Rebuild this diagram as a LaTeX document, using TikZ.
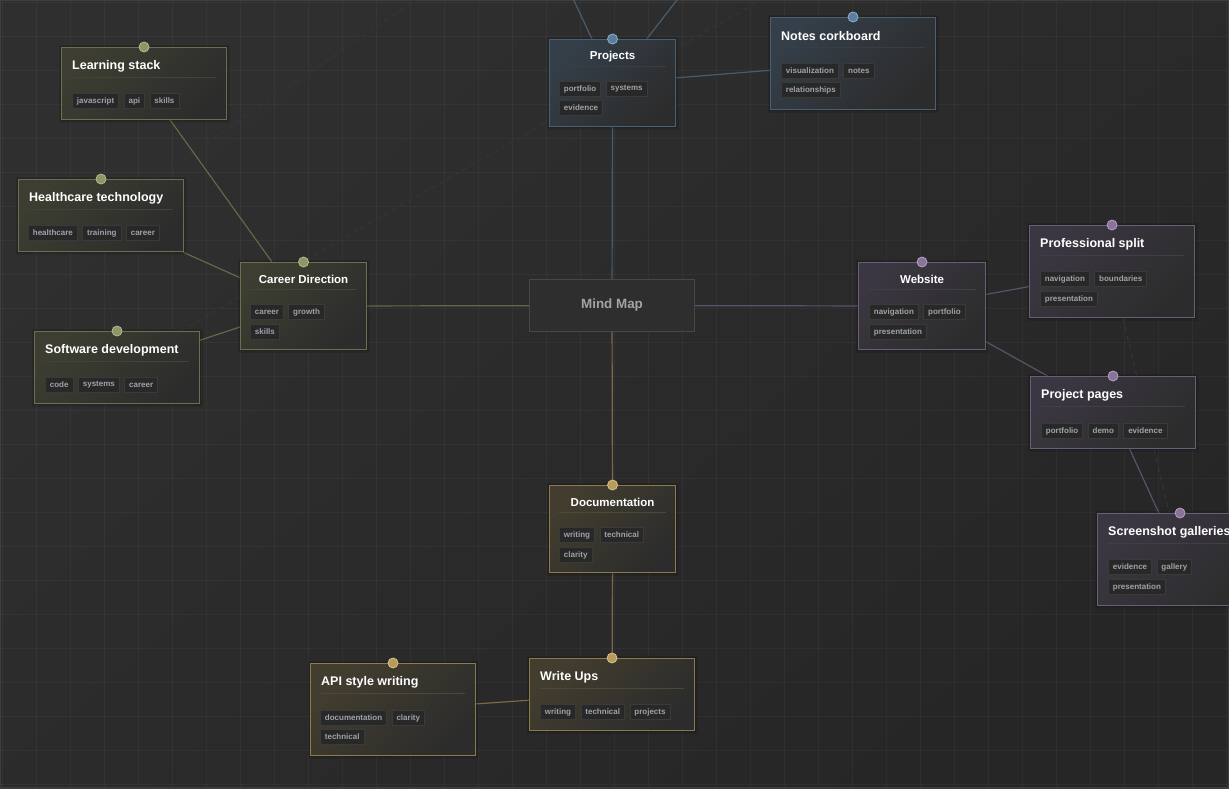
\documentclass[tikz,border=0pt]{standalone}
\usepackage{fontspec}
\setmainfont{Liberation Sans}
\usetikzlibrary{positioning,calc}
\definecolor{bgA}{HTML}{2f2f2f}
\definecolor{bgB}{HTML}{262626}
\definecolor{gridc}{HTML}{ffffff}
\definecolor{framec}{HTML}{3e3e3e}
\definecolor{cardbase}{HTML}{2c2c2c}
\definecolor{olB}{HTML}{6c7051}\definecolor{olT}{HTML}{3d3e31}\definecolor{olD}{HTML}{8f9567}\definecolor{olL}{HTML}{b5ba92}\definecolor{olE}{HTML}{64674a}
\definecolor{blB}{HTML}{4a6174}\definecolor{blT}{HTML}{343f49}\definecolor{blD}{HTML}{5b7e9e}\definecolor{blL}{HTML}{8fb0cc}\definecolor{blE}{HTML}{475d6f}
\definecolor{puB}{HTML}{6b5e79}\definecolor{puT}{HTML}{3b3742}\definecolor{puD}{HTML}{8a739a}\definecolor{puL}{HTML}{b3a0c2}\definecolor{puE}{HTML}{5b5269}
\definecolor{goB}{HTML}{8c7b4b}\definecolor{goT}{HTML}{423d2e}\definecolor{goD}{HTML}{b89b5b}\definecolor{goL}{HTML}{d8c08a}\definecolor{goE}{HTML}{786a46}
\definecolor{mmB}{HTML}{474747}\definecolor{mmF}{HTML}{2e2e2e}\definecolor{mmText}{HTML}{a3a3a3}
\definecolor{tagF}{HTML}{282828}\definecolor{tagB}{HTML}{3a3a38}\definecolor{tagText}{HTML}{9ea3a8}
\definecolor{dashc}{HTML}{363636}
\definecolor{shadowc}{HTML}{000000}
\pgfdeclarelayer{gridlayer}
\pgfdeclarelayer{edgelayer}
\pgfsetlayers{gridlayer,edgelayer,main}
\tikzset{
  gridline/.style={draw=gridc, draw opacity=0.035, line width=0.8pt},
  softshadow/.style={preaction={draw=shadowc, draw opacity=.10, line width=6pt},
                     preaction={draw=shadowc, draw opacity=.12, line width=3pt}},
  card/.style={draw=#1B, top color=#1T, bottom color=cardbase, shading angle=45, line width=1.1pt,
     rectangle, inner sep=0pt, softshadow},
  dotnode/.style={circle, fill=#1D, draw=#1L, line width=0.8pt, minimum size=10pt, inner sep=0pt},
  ttl/.style={inner sep=0pt, text=white, font=\fontsize{12.5pt}{14pt}\selectfont\bfseries},
  ttlc/.style={inner sep=0pt, text=white, font=\fontsize{11.5pt}{13pt}\selectfont\bfseries},
  sepline/.style={draw=#1B!35!cardbase, line width=0.8pt},
  tagbox/.style={draw=tagB, fill=tagF, line width=0.8pt, text=tagText, inner xsep=4.5pt, inner ysep=0pt,
     minimum height=15pt, font=\fontsize{8pt}{9pt}\selectfont\bfseries},
  edge/.style={draw=#1E, line width=1.2pt},
  faint/.style={draw=dashc, line width=0.9pt, dash pattern=on 5pt off 4pt},
  mmbox/.style={draw=mmB, fill=mmF, line width=1pt, inner sep=0pt, text=mmText,
     font=\fontsize{13.4pt}{15pt}\selectfont\bfseries}
}
% left-aligned card: name, left, top, width, height, group, title
\newcommand\leftcard[7]{%
  \node[card=#6, minimum width=#4pt, minimum height=#5pt, anchor=north west] (#1) at (#2,#3) {};
  \node[dotnode=#6] (#1dot) at (#1.north) {};
  \node[ttl, anchor=west] (#1t) at ([xshift=11pt,yshift=-19pt]#1.north west) {#7};
  \draw[sepline=#6] ([xshift=11pt,yshift=-30pt]#1.north west) -- ([xshift=-11pt,yshift=-30pt]#1.north east);
}
% centred card
\newcommand\midcard[7]{%
  \node[card=#6, minimum width=#4pt, minimum height=#5pt, anchor=north west] (#1) at (#2,#3) {};
  \node[dotnode=#6] (#1dot) at (#1.north) {};
  \node[ttlc] (#1t) at ([yshift=-17.5pt]#1.north) {#7};
  \draw[sepline=#6] ([xshift=10pt,yshift=-27pt]#1.north west) -- ([xshift=-10pt,yshift=-27pt]#1.north east);
}
% first tag: name, card, dx, dy, text
\newcommand\firsttag[5]{\node[tagbox, anchor=west] (#1) at ([xshift=#3pt,yshift=-#4pt]#2.north west) {#5};}
% next tag: name, previous, text
\newcommand\nexttag[3]{\node[tagbox, right=4.5pt of #2] (#1) {#3};}

\begin{document}
\begin{tikzpicture}[x=1pt, y=-1pt]
\useasboundingbox (0,0) rectangle (1229,788);
\begin{pgfonlayer}{gridlayer}
  \path[top color=bgA, bottom color=bgB, shading angle=40] (0,0) rectangle (1229,788);
  \foreach \gx in {2,36,...,1228} {\draw[gridline] (\gx,0) -- (\gx,788);}
  \foreach \gy in {2,36,...,788} {\draw[gridline] (0,\gy) -- (1229,\gy);}
  \draw[framec, line width=2pt] (0,0) rectangle (1229,788);
\end{pgfonlayer}

% ---------- cards ----------
\node[mmbox, minimum width=165pt, minimum height=52pt, anchor=north west] (mm) at (529,279) {\raisebox{-1.5pt}{Mind Map}};

\leftcard{ls}{61}{47}{165}{72}{ol}{Learning stack}
\firsttag{ls1}{ls}{11}{54}{javascript}\nexttag{ls2}{ls1}{api}\nexttag{ls3}{ls2}{skills}

\leftcard{ht}{18}{179}{165}{72}{ol}{Healthcare technology}
\firsttag{ht1}{ht}{10}{54}{healthcare}\nexttag{ht2}{ht1}{training}\nexttag{ht3}{ht2}{career}

\leftcard{sd}{34}{331}{165}{72}{ol}{Software development}
\firsttag{sd1}{sd}{11}{54}{code}\nexttag{sd2}{sd1}{systems}\nexttag{sd3}{sd2}{career}

\midcard{cd}{240}{262}{126}{87}{ol}{Career Direction}
\firsttag{cd1}{cd}{10}{50}{career}\nexttag{cd2}{cd1}{growth}
\firsttag{cd3}{cd}{10}{70}{skills}

\midcard{pr}{549}{39}{126}{87}{bl}{Projects}
\firsttag{pr1}{pr}{10}{50}{portfolio}\nexttag{pr2}{pr1}{systems}
\firsttag{pr3}{pr}{10}{69}{evidence}

\leftcard{nc}{770}{17}{165}{92}{bl}{Notes corkboard}
\firsttag{nc1}{nc}{11}{54}{visualization}\nexttag{nc2}{nc1}{notes}
\firsttag{nc3}{nc}{11}{73}{relationships}

\midcard{ws}{858}{262}{127}{87}{pu}{Website}
\firsttag{ws1}{ws}{11}{50}{navigation}\nexttag{ws2}{ws1}{portfolio}
\firsttag{ws3}{ws}{11}{70}{presentation}

\leftcard{ps}{1029}{225}{165}{92}{pu}{Professional split}
\firsttag{ps1}{ps}{11}{54}{navigation}\nexttag{ps2}{ps1}{boundaries}
\firsttag{ps3}{ps}{11}{74}{presentation}

\leftcard{pp}{1030}{376}{165}{72}{pu}{Project pages}
\firsttag{pp1}{pp}{11}{55}{portfolio}\nexttag{pp2}{pp1}{demo}\nexttag{pp3}{pp2}{evidence}

\leftcard{sg}{1097}{513}{165}{92}{pu}{Screenshot galleries}
\firsttag{sg1}{sg}{11}{54}{evidence}\nexttag{sg2}{sg1}{gallery}
\firsttag{sg3}{sg}{11}{74}{presentation}

\midcard{dc}{549}{485}{126}{87}{go}{Documentation}
\firsttag{dc1}{dc}{10}{50}{writing}\nexttag{dc2}{dc1}{technical}
\firsttag{dc3}{dc}{10}{70}{clarity}

\leftcard{wu}{529}{658}{165}{72}{go}{Write Ups}
\firsttag{wu1}{wu}{11}{54}{writing}\nexttag{wu2}{wu1}{technical}\nexttag{wu3}{wu2}{projects}

\leftcard{aw}{310}{663}{165}{92}{go}{API style writing}
\firsttag{aw1}{aw}{10}{55}{documentation}\nexttag{aw2}{aw1}{clarity}
\firsttag{aw3}{aw}{10}{74}{technical}

% off-picture ends
\coordinate (offP1) at (555,-40);
\coordinate (offP2) at (708,-40);
\coordinate (offA) at (430,-10);
\coordinate (offB) at (770,-5);

% ---------- connectors ----------
\begin{pgfonlayer}{edgelayer}
  \draw[faint] (ht) -- (sd);
  \draw[faint] (ps) -- (sg);
  \draw[faint] (ht) -- (offA);
  \draw[faint] (sd) -- (offB);
  \draw[edge=ol] (cd) -- (mm);
  \draw[edge=ol] (cd) -- (ls);
  \draw[edge=ol] (cd) -- (ht);
  \draw[edge=ol] (cd) -- (sd);
  \draw[edge=bl] (pr) -- (mm);
  \draw[edge=bl] (pr) -- (nc);
  \draw[edge=bl] (pr) -- (offP1);
  \draw[edge=bl] (pr) -- (offP2);
  \draw[edge=pu] (mm) -- (ws);
  \draw[edge=pu] (ws) -- (ps);
  \draw[edge=pu] (ws) -- (pp);
  \draw[edge=pu] (pp) -- (sg);
  \draw[edge=go] (mm) -- (dc);
  \draw[edge=go] (dc) -- (wu);
  \draw[edge=go] (wu) -- (aw);
\end{pgfonlayer}
\end{tikzpicture}
\end{document}
